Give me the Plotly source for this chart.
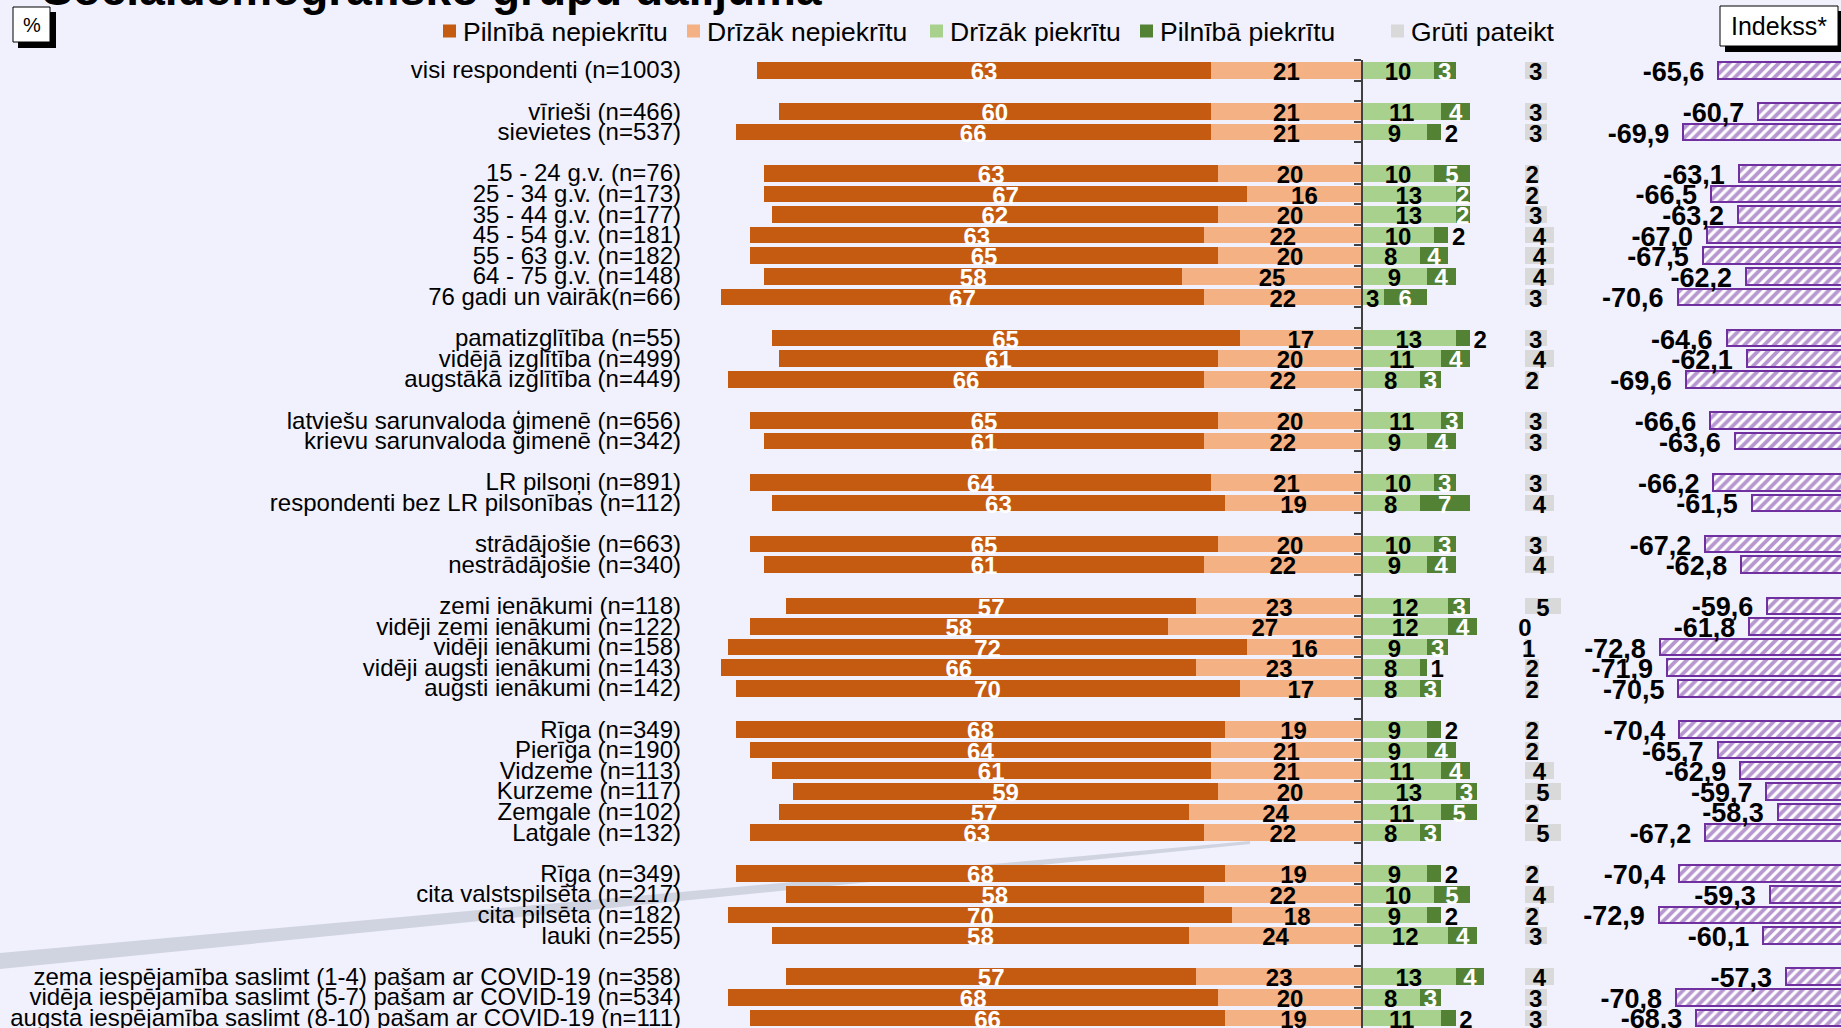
import plotly.graph_objects as go

# ---------------- data ----------------
group_sizes = [1, 2, 7, 3, 2, 2, 2, 5, 6, 4, 3]

categories = [
    "visi respondenti (n=1003)",
    "vīrieši (n=466)", "sievietes (n=537)",
    "15 - 24 g.v. (n=76)", "25 - 34 g.v. (n=173)", "35 - 44 g.v. (n=177)",
    "45 - 54 g.v. (n=181)", "55 - 63 g.v. (n=182)", "64 - 75 g.v. (n=148)",
    "76 gadi un vairāk(n=66)",
    "pamatizglītība (n=55)", "vidējā izglītība (n=499)", "augstākā izglītība (n=449)",
    "latviešu sarunvaloda ģimenē (n=656)", "krievu sarunvaloda ģimenē (n=342)",
    "LR pilsoņi (n=891)", "respondenti bez LR pilsonības (n=112)",
    "strādājošie (n=663)", "nestrādājošie (n=340)",
    "zemi ienākumi (n=118)", "vidēji zemi ienākumi (n=122)", "vidēji ienākumi (n=158)",
    "vidēji augsti ienākumi (n=143)", "augsti ienākumi (n=142)",
    "Rīga (n=349)", "Pierīga (n=190)", "Vidzeme (n=113)", "Kurzeme (n=117)",
    "Zemgale (n=102)", "Latgale (n=132)",
    "Rīga (n=349)", "cita valstspilsēta (n=217)", "cita pilsēta (n=182)", "lauki (n=255)",
    "zema iespējamība saslimt (1-4) pašam ar COVID-19 (n=358)",
    "vidēja iespējamība saslimt (5-7) pašam ar COVID-19 (n=534)",
    "augsta iespējamība saslimt (8-10) pašam ar COVID-19 (n=111)",
]

pilniba_nepiekritu = [63, 60, 66, 63, 67, 62, 63, 65, 58, 67, 65, 61, 66, 65, 61, 64, 63,
                      65, 61, 57, 58, 72, 66, 70, 68, 64, 61, 59, 57, 63, 68, 58, 70, 58,
                      57, 68, 66]
drizak_nepiekritu = [21, 21, 21, 20, 16, 20, 22, 20, 25, 22, 17, 20, 22, 20, 22, 21, 19,
                     20, 22, 23, 27, 16, 23, 17, 19, 21, 21, 20, 24, 22, 19, 22, 18, 24,
                     23, 20, 19]
drizak_piekritu = [10, 11, 9, 10, 13, 13, 10, 8, 9, 3, 13, 11, 8, 11, 9, 10, 8,
                   10, 9, 12, 12, 9, 8, 8, 9, 9, 11, 13, 11, 8, 9, 10, 9, 12,
                   13, 8, 11]
pilniba_piekritu = [3, 4, 2, 5, 2, 2, 2, 4, 4, 6, 2, 4, 3, 3, 4, 3, 7,
                    3, 4, 3, 4, 3, 1, 3, 2, 4, 4, 3, 5, 3, 2, 5, 2, 4,
                    4, 3, 2]
gruti_pateikt = [3, 3, 3, 2, 2, 3, 4, 4, 4, 3, 3, 4, 2, 3, 3, 3, 4,
                 3, 4, 5, 0, 1, 2, 2, 2, 2, 4, 5, 2, 5, 2, 4, 2, 3,
                 4, 3, 3]
indekss = [-65.6, -60.7, -69.9, -63.1, -66.5, -63.2, -67.0, -67.5, -62.2, -70.6,
           -64.6, -62.1, -69.6, -66.6, -63.6, -66.2, -61.5, -67.2, -62.8,
           -59.6, -61.8, -72.8, -71.9, -70.5, -70.4, -65.7, -62.9, -59.7, -58.3, -67.2,
           -70.4, -59.3, -72.9, -60.1, -57.3, -70.8, -68.3]

legend_names = ["Pilnībā nepiekrītu", "Drīzāk nepiekrītu", "Drīzāk piekrītu",
                "Pilnībā piekrītu", "Grūti pateikt"]

# rows whose "Pilnībā piekrītu" label sits outside the bar (style)
pp_label_outside = {2, 6, 10, 22, 24, 30, 32, 36}

# ---------------- styles / layout constants ----------------
W, H = 1841, 1028
C_PN, C_DN, C_DP, C_PP, C_GP = "#C55A11", "#F4B183", "#A9D18E", "#548235", "#D9D9D9"
PURPLE = "#7030A0"
BG = "#F0F1FD"
FONT = "Liberation Sans, Arial, sans-serif"

ZERO_PX, PX_PER = 1362, 7.2          # main axis
IDX_ZERO_PX, IDX_PX = 2253, 8.15     # index axis
ROW_PX, TOP_PX = 20.6, 60
GP_BASE = (1525 - ZERO_PX) / PX_PER
LABEL_X = (681 - ZERO_PX) / PX_PER

# y positions with a blank row between groups
ys = []
r = 0
for g in group_sizes:
    for _ in range(g):
        ys.append(r)
        r += 1
    r += 1
n_rows = r - 1

fig = go.Figure()

def hbar(x, base, color, **kw):
    fig.add_trace(go.Bar(y=ys, x=x, base=base, orientation="h", width=0.81,
                         marker=dict(color=color, line=dict(width=0)),
                         showlegend=False, hoverinfo="skip", **kw))

neg_dn = [-v for v in drizak_nepiekritu]
hbar([-v for v in pilniba_nepiekritu], neg_dn, C_PN)
hbar(neg_dn, [0] * len(ys), C_DN)
hbar(drizak_piekritu, [0] * len(ys), C_DP)
hbar(pilniba_piekritu, drizak_piekritu, C_PP)
hbar(gruti_pateikt, [GP_BASE] * len(ys), C_GP)

fig.add_trace(go.Bar(
    y=ys, x=indekss, base=[0] * len(ys), orientation="h", width=0.81,
    xaxis="x2", yaxis="y",
    marker=dict(color="white", line=dict(color=PURPLE, width=2),
                pattern=dict(shape="/", fgcolor=PURPLE, bgcolor="white", size=7, solidity=0.55)),
    showlegend=False, hoverinfo="skip"))

TY = 0.18  # small downward offset of numbers

def txt(x, y, text, color, size=24, bold=True, pos="middle center", xaxis="x"):
    fig.add_trace(go.Scatter(
        x=x, y=y, text=text, mode="text", textposition=pos, xaxis=xaxis, yaxis="y",
        textfont=dict(family=FONT, size=size, color=color,
                      weight="bold" if bold else "normal"),
        showlegend=False, hoverinfo="skip", cliponaxis=False))

ysn = [y + TY for y in ys]
# category labels
txt([LABEL_X] * len(ys), [y + 0.1 for y in ys], categories, "black", size=24, bold=False,
    pos="middle left")
# numbers
txt([-(dn + pn / 2) for pn, dn in zip(pilniba_nepiekritu, drizak_nepiekritu)], ysn,
    [str(v) for v in pilniba_nepiekritu], "white")
txt([-dn / 2 for dn in drizak_nepiekritu], ysn, [str(v) for v in drizak_nepiekritu], "black")
txt([dp / 2 for dp in drizak_piekritu], ysn, [str(v) for v in drizak_piekritu], "black")
ins = [i for i in range(len(ys)) if i not in pp_label_outside]
out = sorted(pp_label_outside)
txt([drizak_piekritu[i] + pilniba_piekritu[i] / 2 for i in ins], [ysn[i] for i in ins],
    [str(pilniba_piekritu[i]) for i in ins], "white")
txt([drizak_piekritu[i] + pilniba_piekritu[i] + 0.5 for i in out], [ysn[i] for i in out],
    [str(pilniba_piekritu[i]) for i in out], "black", pos="middle right")
txt([GP_BASE + v / 2 for v in gruti_pateikt], ysn, [str(v) for v in gruti_pateikt], "black")
txt([v - 14 / IDX_PX for v in indekss], ysn,
    [f"{v:.1f}".replace(".", ",") for v in indekss], "black", size=27,
    pos="middle left", xaxis="x2")

# ---------------- layout ----------------
def px(x):
    return x / W

def py(y):
    return 1 - y / H

shapes = []
# decorative band
shapes.append(dict(type="path", xref="paper", yref="paper", layer="below",
                   path=f"M 0 {py(953)} L {px(1250)} {py(841)} L {px(1250)} {py(844)} L 0 {py(969)} Z",
                   fillcolor="rgba(200,204,216,0.8)", line=dict(width=0)))
# % box
shapes.append(dict(type="rect", xref="paper", yref="paper", x0=px(18), x1=px(56), y0=py(48), y1=py(12),
                   fillcolor="black", line=dict(width=0)))
shapes.append(dict(type="rect", xref="paper", yref="paper", x0=px(13), x1=px(50), y0=py(42), y1=py(7),
                   fillcolor="white", line=dict(color="black", width=1)))
# Indekss box
shapes.append(dict(type="rect", xref="paper", yref="paper", x0=px(1725), x1=px(1845), y0=py(52), y1=py(11),
                   fillcolor="black", line=dict(width=0)))
shapes.append(dict(type="rect", xref="paper", yref="paper", x0=px(1720), x1=px(1838), y0=py(46), y1=py(6),
                   fillcolor="white", line=dict(color="black", width=1)))

annotations = [
    dict(text="Sociāldemogrāfisko grupu dalījumā", xref="paper", yref="paper",
         x=px(40), y=py(17), xanchor="left", yanchor="bottom", showarrow=False,
         font=dict(family=FONT, size=46, color="black", weight="bold")),
    dict(text="%", xref="paper", yref="paper", x=px(31.5), y=py(24.5), xanchor="center",
         yanchor="middle", showarrow=False, font=dict(family=FONT, size=20, color="black")),
    dict(text="Indekss*", xref="paper", yref="paper", x=px(1779), y=py(26), xanchor="center",
         yanchor="middle", showarrow=False, font=dict(family=FONT, size=25, color="black")),
]

legend_x = [443, 687, 930, 1140, 1391]
legend_colors = [C_PN, C_DN, C_DP, C_PP, C_GP]
LEG_Y = 31
for lx, name, col in zip(legend_x, legend_names, legend_colors):
    shapes.append(dict(type="rect", xref="paper", yref="paper", x0=px(lx), x1=px(lx + 13),
                       y0=py(LEG_Y + 6.5), y1=py(LEG_Y - 6.5), fillcolor=col, line=dict(width=0)))
    annotations.append(dict(text=name, xref="paper", yref="paper", x=px(lx + 18), y=py(LEG_Y + 1),
                            xanchor="left", yanchor="middle", showarrow=False,
                            font=dict(family=FONT, size=26.5, color="black")))

fig.update_layout(
    width=W, height=H, margin=dict(l=0, r=0, t=0, b=0, pad=0),
    paper_bgcolor=BG, plot_bgcolor=BG,
    barmode="overlay", bargap=0,
    shapes=shapes, annotations=annotations,
    xaxis=dict(domain=[0, 1], range=[-ZERO_PX / PX_PER, (W - ZERO_PX) / PX_PER],
               visible=False, fixedrange=True),
    xaxis2=dict(domain=[0, 1], overlaying="x", anchor="y",
                range=[-IDX_ZERO_PX / IDX_PX, (W - IDX_ZERO_PX) / IDX_PX],
                visible=False, fixedrange=True),
    yaxis=dict(domain=[0, 1 - TOP_PX / H],
               range=[-0.5 + (H - TOP_PX) / ROW_PX, -0.5],
               anchor="free", position=ZERO_PX / W, side="left",
               showline=True, linecolor="#404040", linewidth=1.5,
               ticks="outside", ticklen=7, tickcolor="#404040", tickwidth=1.5,
               tickvals=[i + 0.5 for i in range(-1, n_rows + 1)],
               showticklabels=False, showgrid=False, zeroline=False, fixedrange=True),
    font=dict(family=FONT),
)

fig.write_html(
    "out.html",
    config={"displayModeBar": False},
    post_script="document.body.style.margin='0';document.body.style.overflow='hidden';"
                "document.body.style.background='" + BG + "';",
)
